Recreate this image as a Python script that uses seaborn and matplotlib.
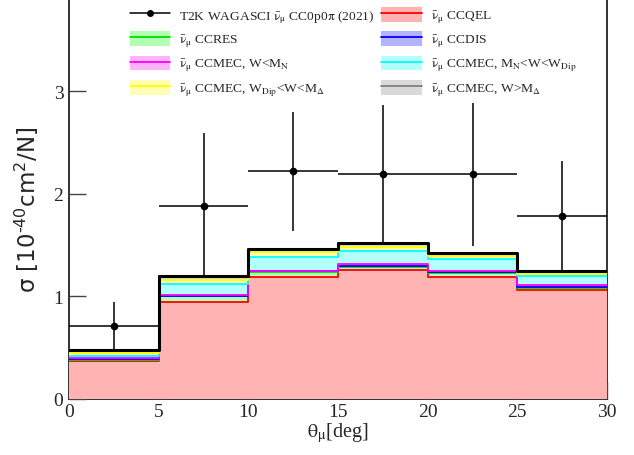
import numpy as np
import pandas as pd
import matplotlib
matplotlib.use("Agg")
import matplotlib.pyplot as plt
import seaborn as sns
from matplotlib.lines import Line2D
from matplotlib.patches import Patch

# ---------------- data ----------------
bin_edges = [0, 5, 10, 15, 20, 25, 30]
bin_centers = [2.5, 7.5, 12.5, 17.5, 22.5, 27.5]

data_xsec = [0.71, 1.88, 2.22, 2.19, 2.19, 1.78]
data_err = [0.24, 0.71, 0.58, 0.68, 0.70, 0.54]

# MC components (stack order, bottom -> top)
ccqel = [0.37, 0.95, 1.19, 1.26, 1.19, 1.06]
ccres = [0.015, 0.05, 0.05, 0.03, 0.04, 0.025]
ccdis = [0.003, 0.005, 0.005, 0.005, 0.005, 0.005]
mec_lt_mn = [0.01, 0.01, 0.005, 0.025, 0.01, 0.02]
mec_mn_wdip = [0.025, 0.11, 0.13, 0.12, 0.12, 0.09]
mec_wdip_mdelta = [0.025, 0.035, 0.05, 0.04, 0.03, 0.02]
mec_gt_mdelta = [0.03, 0.035, 0.03, 0.04, 0.03, 0.025]

nub = r"$\bar{\mathrm{\nu}}_{\mathrm{\mu}}$"
data_label = "T2K WAGASCI " + nub + r" CC0p0$\mathrm{\pi}$ (2021)"
component_labels = [
    nub + " CCQEL",
    nub + " CCRES",
    nub + " CCDIS",
    nub + r" CCMEC, W<M$_{\mathrm{N}}$",
    nub + r" CCMEC, M$_{\mathrm{N}}$<W<W$_{\mathrm{Dip}}$",
    nub + r" CCMEC, W$_{\mathrm{Dip}}$<W<M$_{\mathrm{\Delta}}$",
    nub + r" CCMEC, W>M$_{\mathrm{\Delta}}$",
]
x_ticks = [0, 5, 10, 15, 20, 25, 30]
y_ticks = [0, 1, 2, 3]

line_colors = ["#ff0000", "#00e000", "#0000ff", "#ff00ff", "#00ffff", "#ffff00", "#808080"]
fill_colors = ["#ffb3b3", "#b3ffb3", "#b3b3ff", "#ffb3ff", "#b3ffff", "#ffffb3", "#d9d9d9"]

# ---------------- style ----------------
sns.set_theme(style="ticks")
plt.rcParams["font.family"] = ["Liberation Serif", "DejaVu Serif"]
plt.rcParams["mathtext.fontset"] = "stix"

fig = plt.figure(figsize=(6.34, 4.56), dpi=100)
ax = fig.add_axes([69 / 634, 1 - 400 / 456, (607 - 69) / 634, 400 / 456])

components = [ccqel, ccres, ccdis, mec_lt_mn, mec_mn_wdip, mec_wdip_mdelta, mec_gt_mdelta]
cum = np.cumsum(np.array(components), axis=0)
n = len(components)

# data (drawn below the stack, as in the reference)
ax.errorbar(bin_centers, data_xsec, yerr=data_err, xerr=2.5, fmt="o", color="black",
            markersize=4.5, elinewidth=1.1, capsize=0, zorder=0.9)

# filled stack, drawn from top layer down
for k in reversed(range(n)):
    df = pd.DataFrame({"theta": bin_centers, "xsec": cum[k]})
    sns.histplot(data=df, x="theta", weights="xsec", bins=bin_edges, element="step",
                 fill=True, color=fill_colors[k], alpha=1, linewidth=0, ax=ax, zorder=1)

# layer top lines
for k in range(n):
    sns.lineplot(x=bin_edges, y=np.append(cum[k], cum[k][-1]), drawstyle="steps-post",
                 color=line_colors[k], linewidth=1.3, estimator=None, ax=ax, zorder=2)
sns.lineplot(x=bin_edges, y=np.append(cum[-1], cum[-1][-1]), drawstyle="steps-post",
             color="black", linewidth=2.2, estimator=None, ax=ax, zorder=3)

ax.set_xlim(0, 30)
ax.set_ylim(0, 3.9)
ax.set_xticks(x_ticks)
ax.set_xticklabels([str(t) for t in x_ticks])
ax.set_yticks(y_ticks)
ax.set_yticklabels([str(t) for t in y_ticks])
ax.set_axisbelow(True)
ax.tick_params(axis="both", direction="in", length=12, width=1, color="#444444", labelsize=14)
ax.tick_params(axis="y", pad=4)
ax.tick_params(axis="x", pad=3)

for side in ["left", "right", "bottom"]:
    ax.spines[side].set_visible(True)
    ax.spines[side].set_linewidth(1.3)
    ax.spines[side].set_color("#222222")
    ax.spines[side].set_zorder(0.5)
ax.spines["top"].set_visible(False)

ax.set_xlabel(r"$\mathrm{\theta}_{\mathrm{\mu}}$[deg]", fontsize=14.5, labelpad=0)
ax.set_ylabel("σ [10$^{\u2010 40}$cm$^{2}$/N]", fontsize=16.5, fontfamily="DejaVu Sans",
              math_fontfamily="dejavusans")
ax.yaxis.set_label_coords(-0.052, 0.475)

# legend (row-major in the reference -> column-major order here)
data_handle = Line2D([], [], color="black", marker="o", markersize=4, linewidth=1.1)
mc_handles = [(Patch(facecolor=fill_colors[k], edgecolor="none"),
               Line2D([], [], color=line_colors[k], linewidth=1.3)) for k in range(n)]
col1 = [(data_handle, data_label), (mc_handles[1], component_labels[1]),
        (mc_handles[3], component_labels[3]), (mc_handles[5], component_labels[5])]
col2 = [(mc_handles[0], component_labels[0]), (mc_handles[2], component_labels[2]),
        (mc_handles[4], component_labels[4]), (mc_handles[6], component_labels[6])]
items = col1 + col2
ax.legend([h for h, _ in items], [l for _, l in items], ncol=2, loc="upper left",
          bbox_to_anchor=(130 / 634, 1 - 8 / 456), bbox_transform=fig.transFigure,
          frameon=False, fontsize=9.7, handlelength=3.0, handleheight=1.3,
          labelspacing=0.5, handletextpad=0.65, columnspacing=0.5,
          borderaxespad=0, borderpad=0)

fig.savefig("out.png", dpi=100)
